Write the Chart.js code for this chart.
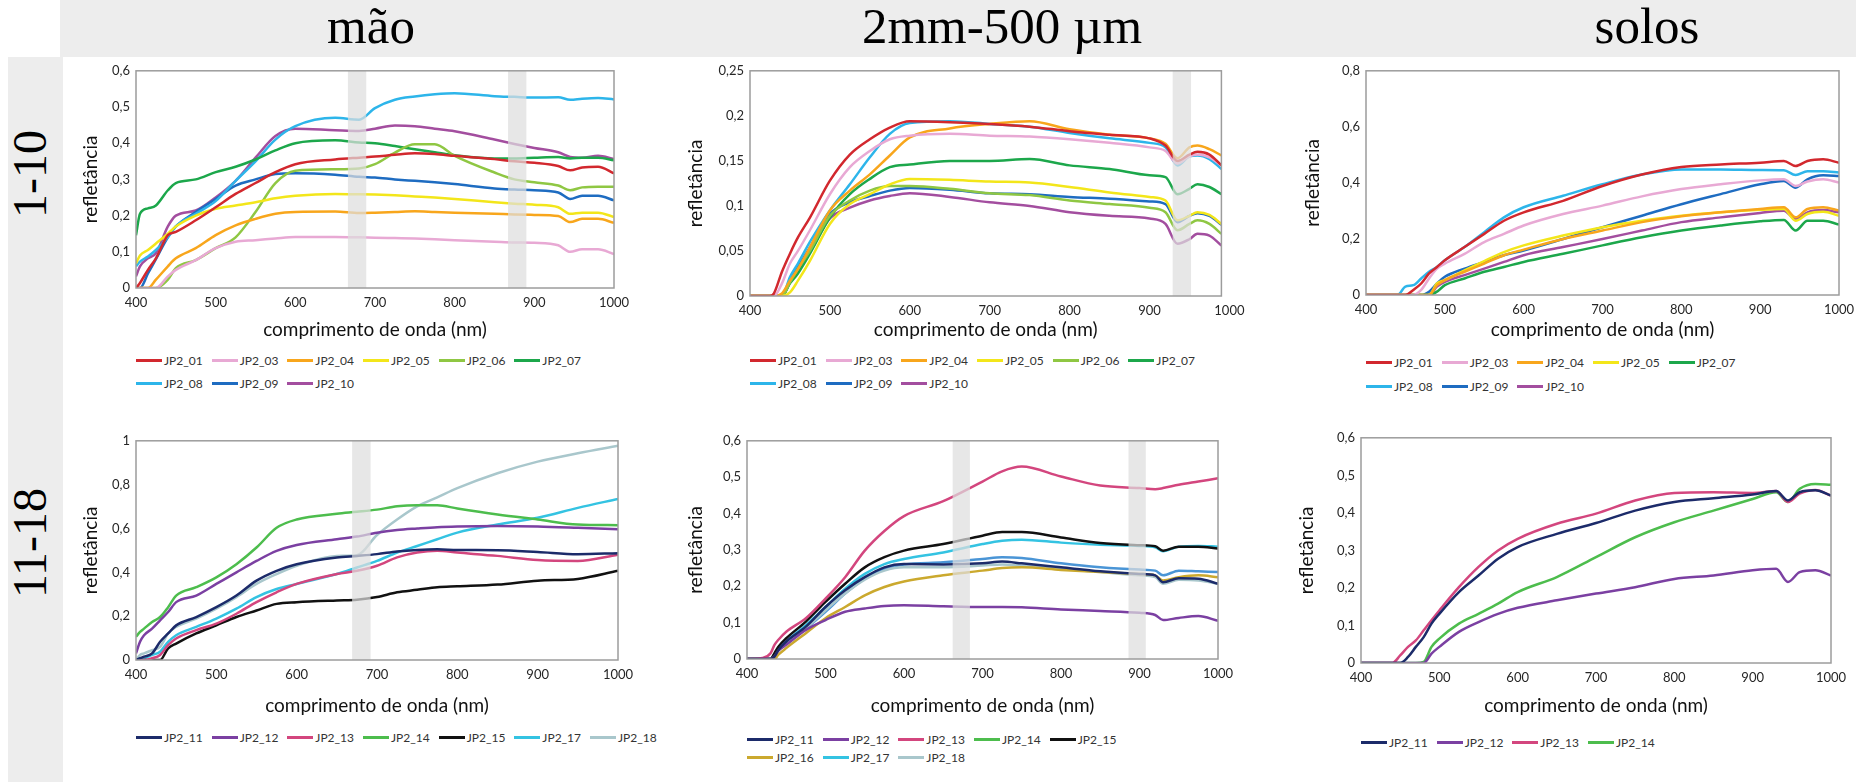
<!DOCTYPE html>
<html>
<head>
<meta charset="utf-8">
<script src="https://cdn.jsdelivr.net/npm/chart.js@4.4.0/dist/chart.umd.min.js"></script>
<style>
body{margin:0;width:1871px;height:782px;position:relative;background:#fff;overflow:hidden;font-family:Lato,sans-serif}
#head{position:absolute;left:60px;top:0;width:1796px;height:57px;background:#ededed}
#side{position:absolute;left:8px;top:57px;width:55px;height:725px;background:#ededed}
.ht{position:absolute;top:-2px;font:51px 'Liberation Serif';line-height:57px;transform:translateX(-50%);white-space:nowrap;color:#000}
.st{position:absolute;font:48px 'Liberation Serif';line-height:48px;transform:translate(-50%,-50%) rotate(-90deg);white-space:nowrap;color:#000}
canvas{position:absolute}
.leg{position:absolute;display:flex;height:16px;align-items:center;font:12px Lato;color:#333;white-space:nowrap}
.it{display:flex;align-items:center;margin-right:9px}
.sw{display:inline-block;width:26px;height:3px;margin-right:2px}
</style>
</head>
<body>
<div id="head"></div>
<div id="side"></div>
<div class="ht" style="left:371px">mão</div>
<div class="ht" style="left:1002px">2mm-500 µm</div>
<div class="ht" style="left:1647px">solos</div>
<div class="st" style="left:30px;top:174px">1-10</div>
<div class="st" style="left:30px;top:543px">11-18</div>
<script>
// ---- data ----
const xTicks = [400,500,600,700,800,900,1000];

// mão, amostras 1-10
const maoAWl = [400,405,415,425,440,450,475,500,525,550,575,600,650,680,700,725,750,775,800,850,875,900,930,945,960,980,1000];
const maoANames = ['JP2_01','JP2_03','JP2_04','JP2_05','JP2_06','JP2_07','JP2_08','JP2_09','JP2_10'];
const maoAValues = [
[0,0.014,0.05,0.082,0.146,0.155,0.187,0.223,0.26,0.29,0.32,0.342,0.355,0.36,0.363,0.368,0.372,0.37,0.365,0.356,0.35,0.346,0.337,0.325,0.333,0.335,0.317],
[0,0,0,0,0.032,0.05,0.077,0.11,0.128,0.132,0.137,0.141,0.141,0.14,0.139,0.138,0.137,0.135,0.132,0.128,0.126,0.125,0.118,0.1,0.107,0.107,0.094],
[0,0,0,0.023,0.06,0.082,0.11,0.146,0.173,0.191,0.205,0.21,0.211,0.207,0.208,0.21,0.212,0.21,0.208,0.205,0.203,0.202,0.199,0.182,0.191,0.191,0.18],
[0.068,0.09,0.105,0.123,0.15,0.17,0.2,0.219,0.228,0.237,0.248,0.255,0.26,0.259,0.258,0.256,0.253,0.25,0.246,0.237,0.233,0.23,0.223,0.205,0.208,0.208,0.196],
[0,0,0,0,0.023,0.055,0.077,0.11,0.14,0.21,0.29,0.324,0.328,0.33,0.342,0.374,0.397,0.397,0.365,0.319,0.3,0.292,0.283,0.27,0.278,0.28,0.28],
[0.146,0.205,0.22,0.228,0.27,0.29,0.3,0.32,0.335,0.355,0.38,0.4,0.408,0.402,0.4,0.392,0.383,0.375,0.367,0.358,0.358,0.36,0.362,0.358,0.36,0.36,0.353],
[0.06,0.073,0.087,0.105,0.14,0.17,0.205,0.24,0.296,0.35,0.41,0.447,0.47,0.465,0.497,0.52,0.529,0.535,0.538,0.53,0.528,0.526,0.527,0.52,0.523,0.525,0.521],
[0,0,0.04,0.08,0.14,0.17,0.21,0.246,0.283,0.3,0.315,0.317,0.313,0.307,0.305,0.3,0.296,0.292,0.287,0.275,0.272,0.27,0.264,0.246,0.255,0.255,0.242],
[0.032,0.06,0.082,0.096,0.17,0.2,0.214,0.25,0.296,0.36,0.42,0.44,0.436,0.434,0.44,0.449,0.447,0.44,0.433,0.41,0.398,0.387,0.375,0.362,0.36,0.365,0.356]
];
const maoABands = [[666,689],[867,890]];

// 2mm-500 µm, amostras 1-10
const fracAWl = [400,425,430,440,450,460,475,500,525,550,575,600,650,700,750,800,850,900,920,935,950,960,975,990];
const fracANames = ['JP2_01','JP2_03','JP2_04','JP2_05','JP2_06','JP2_07','JP2_08','JP2_09','JP2_10'];
const fracAValues = [
[0,0,0.003,0.027,0.047,0.065,0.087,0.128,0.157,0.174,0.187,0.194,0.193,0.191,0.188,0.183,0.179,0.175,0.167,0.15,0.157,0.16,0.157,0.145],
[0,0,0,0.014,0.036,0.05,0.073,0.113,0.143,0.161,0.174,0.178,0.18,0.178,0.177,0.174,0.17,0.165,0.161,0.147,0.155,0.157,0.154,0.145],
[0,0,0,0.003,0.017,0.03,0.054,0.095,0.117,0.135,0.156,0.176,0.186,0.191,0.194,0.185,0.179,0.175,0.169,0.153,0.165,0.167,0.163,0.156],
[0,0,0,0,0.004,0.017,0.039,0.08,0.102,0.113,0.124,0.13,0.129,0.127,0.126,0.121,0.115,0.11,0.106,0.084,0.089,0.093,0.09,0.08],
[0,0,0,0,0.015,0.03,0.05,0.089,0.106,0.117,0.122,0.122,0.119,0.114,0.112,0.106,0.102,0.098,0.093,0.073,0.08,0.084,0.08,0.069],
[0,0,0,0,0.014,0.025,0.047,0.087,0.113,0.13,0.143,0.146,0.15,0.15,0.152,0.145,0.141,0.134,0.132,0.113,0.119,0.124,0.121,0.113],
[0,0,0,0,0.021,0.036,0.06,0.095,0.124,0.154,0.18,0.192,0.194,0.191,0.188,0.181,0.175,0.17,0.165,0.145,0.155,0.156,0.152,0.141],
[0,0,0,0,0.017,0.032,0.054,0.091,0.104,0.111,0.117,0.12,0.118,0.114,0.113,0.11,0.108,0.105,0.102,0.082,0.089,0.092,0.089,0.079],
[0,0,0,0,0.015,0.028,0.049,0.086,0.098,0.106,0.111,0.114,0.11,0.104,0.1,0.093,0.089,0.086,0.08,0.058,0.063,0.069,0.067,0.056]
];
const fracABands = [[929,952]];

// solos, amostras 1-10
const soloAWl = [400,440,450,460,470,480,490,500,525,550,575,600,650,700,750,800,850,900,930,945,960,980,1000];
const soloANames = ['JP2_01','JP2_03','JP2_04','JP2_05','JP2_07','JP2_08','JP2_09','JP2_10'];
const soloAValues = [
[0,0,0,0.018,0.041,0.077,0.1,0.124,0.171,0.218,0.265,0.295,0.336,0.389,0.43,0.457,0.466,0.472,0.478,0.46,0.478,0.484,0.472],
[0,0,0,0,0.018,0.059,0.094,0.112,0.147,0.189,0.218,0.248,0.289,0.319,0.352,0.378,0.395,0.409,0.413,0.389,0.405,0.413,0.401],
[0,0,0,0,0,0,0.035,0.053,0.083,0.112,0.142,0.162,0.2,0.23,0.26,0.281,0.295,0.307,0.313,0.277,0.307,0.313,0.301],
[0,0,0,0,0,0,0.041,0.053,0.088,0.121,0.153,0.177,0.212,0.242,0.265,0.283,0.295,0.304,0.307,0.265,0.289,0.297,0.283],
[0,0,0,0,0,0,0.012,0.035,0.059,0.083,0.1,0.118,0.147,0.177,0.206,0.23,0.248,0.263,0.268,0.23,0.265,0.265,0.251],
[0,0,0.03,0.035,0.059,0.083,0.1,0.124,0.171,0.224,0.277,0.313,0.354,0.395,0.43,0.448,0.448,0.446,0.445,0.428,0.442,0.442,0.437],
[0,0,0,0,0,0.012,0.041,0.065,0.094,0.118,0.142,0.159,0.2,0.242,0.283,0.324,0.36,0.395,0.407,0.383,0.413,0.427,0.425],
[0,0,0,0,0,0,0.03,0.047,0.071,0.094,0.118,0.142,0.171,0.2,0.23,0.26,0.277,0.293,0.301,0.271,0.295,0.303,0.295]
];

// mão, amostras 11-18
const maoBWl = [400,405,410,420,430,440,450,475,500,525,550,575,600,650,675,700,725,750,775,800,850,900,950,1000];
const maoBNames = ['JP2_11','JP2_12','JP2_13','JP2_14','JP2_15','JP2_17','JP2_18'];
const maoBValues = [
[0,0.008,0.015,0.03,0.083,0.121,0.158,0.196,0.241,0.294,0.362,0.407,0.437,0.468,0.475,0.483,0.495,0.502,0.505,0.502,0.501,0.493,0.483,0.487],
[0.03,0.083,0.113,0.143,0.181,0.219,0.264,0.294,0.347,0.4,0.452,0.498,0.525,0.551,0.563,0.581,0.593,0.6,0.606,0.609,0.611,0.609,0.603,0.596],
[0,0,0,0.008,0.023,0.068,0.098,0.136,0.166,0.211,0.264,0.309,0.347,0.392,0.407,0.43,0.468,0.49,0.498,0.49,0.475,0.456,0.452,0.48],
[0.106,0.128,0.143,0.173,0.196,0.241,0.294,0.332,0.377,0.437,0.513,0.603,0.641,0.667,0.676,0.686,0.701,0.706,0.706,0.691,0.664,0.641,0.618,0.615],
[0,0,0,0,0,0.053,0.075,0.121,0.158,0.196,0.226,0.256,0.264,0.272,0.275,0.287,0.309,0.32,0.332,0.336,0.344,0.362,0.37,0.407],
[0,0,0.008,0.023,0.038,0.083,0.113,0.151,0.189,0.234,0.287,0.324,0.347,0.392,0.422,0.452,0.49,0.52,0.551,0.581,0.618,0.649,0.694,0.735],
[0,0.023,0.03,0.045,0.06,0.121,0.151,0.189,0.234,0.287,0.347,0.392,0.43,0.475,0.478,0.57,0.641,0.701,0.742,0.784,0.852,0.905,0.943,0.977]
];
const maoBBands = [[669,692]];

// 2mm-500 µm, amostras 11-18
const fracBWl = [400,420,430,435,440,450,475,500,525,550,575,600,650,700,725,750,800,850,900,920,930,950,975,1000];
const fracBNames = ['JP2_11','JP2_12','JP2_13','JP2_14','JP2_15','JP2_16','JP2_17','JP2_18'];
const fracBValues = [
[0,0,0,0.007,0.025,0.048,0.089,0.143,0.189,0.225,0.252,0.261,0.26,0.263,0.268,0.263,0.252,0.241,0.234,0.23,0.211,0.222,0.221,0.207],
[0,0,0,0.007,0.023,0.039,0.08,0.107,0.13,0.139,0.146,0.148,0.145,0.143,0.143,0.142,0.136,0.132,0.127,0.121,0.107,0.113,0.118,0.105],
[0,0.003,0.016,0.039,0.053,0.075,0.112,0.166,0.225,0.298,0.352,0.393,0.434,0.488,0.516,0.529,0.502,0.477,0.47,0.467,0.47,0.479,0.488,0.497],
[],
[0,0,0,0.016,0.034,0.057,0.103,0.157,0.207,0.252,0.28,0.298,0.316,0.339,0.349,0.349,0.334,0.319,0.313,0.31,0.298,0.309,0.309,0.304],
[0,0,0,0,0.012,0.03,0.071,0.112,0.143,0.175,0.198,0.213,0.23,0.243,0.25,0.252,0.245,0.239,0.234,0.23,0.216,0.225,0.23,0.225],
[0,0,0,0.012,0.025,0.048,0.093,0.143,0.193,0.234,0.261,0.275,0.293,0.316,0.325,0.328,0.32,0.314,0.311,0.307,0.296,0.309,0.311,0.309],
[0,0,0,0.012,0.023,0.044,0.084,0.134,0.18,0.218,0.243,0.252,0.252,0.257,0.26,0.257,0.248,0.239,0.23,0.225,0.207,0.218,0.216,0.207]
];
// curva azul sem entrada na legenda
const fracBUnlabeled = [0,0,0,0.012,0.025,0.045,0.084,0.13,0.18,0.221,0.248,0.26,0.266,0.275,0.28,0.278,0.263,0.252,0.246,0.243,0.23,0.243,0.241,0.239];
const fracBBands = [[662,684],[886,908]];

// solos, amostras 11-18
const soloBWl = [400,440,450,460,470,480,490,500,525,550,575,600,650,700,750,800,850,900,930,945,960,980,1000];
const soloBNames = ['JP2_11','JP2_12','JP2_13','JP2_14'];
const soloBValues = [
[0,0,0,0.016,0.043,0.069,0.105,0.131,0.189,0.233,0.278,0.309,0.344,0.373,0.406,0.429,0.439,0.449,0.458,0.433,0.455,0.46,0.446],
[0,0,0,0,0,0,0.025,0.043,0.083,0.109,0.131,0.147,0.167,0.185,0.202,0.224,0.233,0.247,0.251,0.216,0.242,0.247,0.233],
[0,0,0.02,0.043,0.06,0.087,0.114,0.14,0.202,0.256,0.3,0.331,0.371,0.398,0.433,0.453,0.455,0.453,0.458,0.429,0.451,0.461,0.446],
[0,0,0,0,0,0.003,0.043,0.065,0.105,0.131,0.158,0.189,0.229,0.282,0.335,0.375,0.406,0.437,0.455,0.429,0.464,0.477,0.475]
];

// ---- styles ----
const colors = {
JP2_01:'#d2282e', JP2_03:'#e8a9d4', JP2_04:'#f8a61c', JP2_05:'#f3e61a', JP2_06:'#8fc743',
JP2_07:'#1ca74b', JP2_08:'#2db5ea', JP2_09:'#1e6cc1', JP2_10:'#a34e9f', JP2_11:'#1c2b6a',
JP2_12:'#7b40a2', JP2_13:'#d3467e', JP2_14:'#4dbd4d', JP2_15:'#111111', JP2_16:'#cba92e',
JP2_17:'#34c3e2', JP2_18:'#a9c7cc'
};
const extraColor = '#4a95d6';

const panels = [
{plot:[136,69,614,288], yTitleX:90, xTitleY:330, xMax:1000, yTicks:[0,0.1,0.2,0.3,0.4,0.5,0.6],
 wl:maoAWl, names:maoANames, values:maoAValues, bands:maoABands, legendY:[360,383], legendBreak:6},
{plot:[750,69,1223,296], yTitleX:695, xTitleY:330, xMax:990, yTicks:[0,0.05,0.1,0.15,0.2,0.25],
 wl:fracAWl, names:fracANames, values:fracAValues, bands:fracABands, legendY:[360,383], legendBreak:6},
{plot:[1366,69,1839,295], yTitleX:1312, xTitleY:330, xMax:1000, yTicks:[0,0.2,0.4,0.6,0.8],
 wl:soloAWl, names:soloANames, values:soloAValues, bands:[], legendY:[362,386], legendBreak:5},
{plot:[136,439,618,660], yTitleX:90, xTitleY:706, xMax:1000, yTicks:[0,0.2,0.4,0.6,0.8,1],
 wl:maoBWl, names:maoBNames, values:maoBValues, bands:maoBBands, legendY:[737], legendBreak:7},
{plot:[747,439,1218,659], yTitleX:695, xTitleY:706, xMax:1000, yTicks:[0,0.1,0.2,0.3,0.4,0.5,0.6],
 wl:fracBWl, names:fracBNames, values:fracBValues, extra:fracBUnlabeled, bands:fracBBands, legendY:[739,757], legendBreak:5},
{plot:[1361,436,1831,663], yTitleX:1306, xTitleY:706, xMax:1000, yTicks:[0,0.1,0.2,0.3,0.4,0.5,0.6],
 wl:soloBWl, names:soloBNames, values:soloBValues, bands:[], legendY:[742], legendBreak:4}
];

const TICK = 13, TITLE = 19;
const titleOff = TITLE*0.6 + 3;

const bandsPlugin = {
id:'bands',
afterDatasetsDraw(chart, args, opts){
const {ctx, chartArea:a, scales:{x}} = chart;
ctx.save();
ctx.fillStyle = 'rgba(222,222,222,0.72)';
(opts.ranges || []).forEach(r=>{
const x0 = x.getPixelForValue(r[0]);
const x1 = x.getPixelForValue(r[1]);
ctx.fillRect(x0, a.top, x1-x0, a.bottom-a.top);
});
ctx.strokeStyle = '#9c9c9c';
ctx.lineWidth = 1.5;
ctx.strokeRect(a.left, a.top, a.right-a.left, a.bottom-a.top);
ctx.restore();
}
};

function fmtY(v){
return String(+v.toFixed(2)).replace('.', ',');
}

function makeChart(p){
const [L,T,R,B] = p.plot;
const left = Math.round(p.yTitleX - titleOff);
const top = T - 12;
const right = R + 28;
const bottom = Math.round(p.xTitleY + titleOff);
const cv = document.createElement('canvas');
cv.width = right-left;
cv.height = bottom-top;
cv.style.left = left+'px';
cv.style.top = top+'px';
document.body.appendChild(cv);

const yW = L-left;
const xH = bottom-B;

const datasets = p.names.map((n,i)=>({
label:n,
data:p.values[i].map((v,j)=>({x:p.wl[j], y:v})),
borderColor:colors[n],
borderWidth:2.5,
pointRadius:0,
fill:false,
cubicInterpolationMode:'monotone'
}));
if(p.extra){
datasets.push({
label:'',
data:p.extra.map((v,j)=>({x:p.wl[j], y:v})),
borderColor:extraColor,
borderWidth:2.5,
pointRadius:0,
fill:false,
cubicInterpolationMode:'monotone'
});
}

const yMax = p.yTicks[p.yTicks.length-1];

new Chart(cv, {
type:'line',
data:{datasets},
options:{
responsive:false,
animation:false,
devicePixelRatio:1,
layout:{padding:{top:12,right:28,left:0,bottom:0}},
plugins:{
legend:{display:false},
tooltip:{enabled:false},
bands:{ranges:p.bands}
},
scales:{
x:{
type:'linear',
min:400,
max:p.xMax,
grid:{display:false, drawTicks:false},
border:{display:false},
afterBuildTicks(s){ s.ticks = xTicks.map(v=>({value:v})); },
afterFit(s){ s.height = xH; },
ticks:{
autoSkip:false,
maxRotation:0,
padding:7,
color:'#262626',
font:{family:'Lato', size:TICK},
callback:v=>String(v)
},
title:{
display:true,
text:'comprimento de onda (nm)',
color:'#111',
font:{family:'Lato', size:TITLE},
padding:{top:0,bottom:3}
}
},
y:{
min:0,
max:yMax,
grid:{display:false, drawTicks:false},
border:{display:false},
afterBuildTicks(s){ s.ticks = p.yTicks.map(v=>({value:v})); },
afterFit(s){ s.width = yW; },
ticks:{
padding:6,
color:'#262626',
font:{family:'Lato', size:TICK},
callback:v=>fmtY(v)
},
title:{
display:true,
text:'refletância',
color:'#111',
font:{family:'Lato', size:TITLE},
padding:{top:3,bottom:0}
}
}
}
},
plugins:[bandsPlugin]
});

const rows = [p.names.slice(0,p.legendBreak), p.names.slice(p.legendBreak)];
rows.forEach((r,k)=>{
if(!r.length) return;
const d = document.createElement('div');
d.className = 'leg';
d.style.left = L+'px';
d.style.top = (p.legendY[k]-8)+'px';
r.forEach(n=>{
const it = document.createElement('span');
it.className = 'it';
it.innerHTML = '<i class="sw" style="background:'+colors[n]+'"></i>'+n;
d.appendChild(it);
});
document.body.appendChild(d);
});
}

panels.forEach(makeChart);
</script>
</body>
</html>
